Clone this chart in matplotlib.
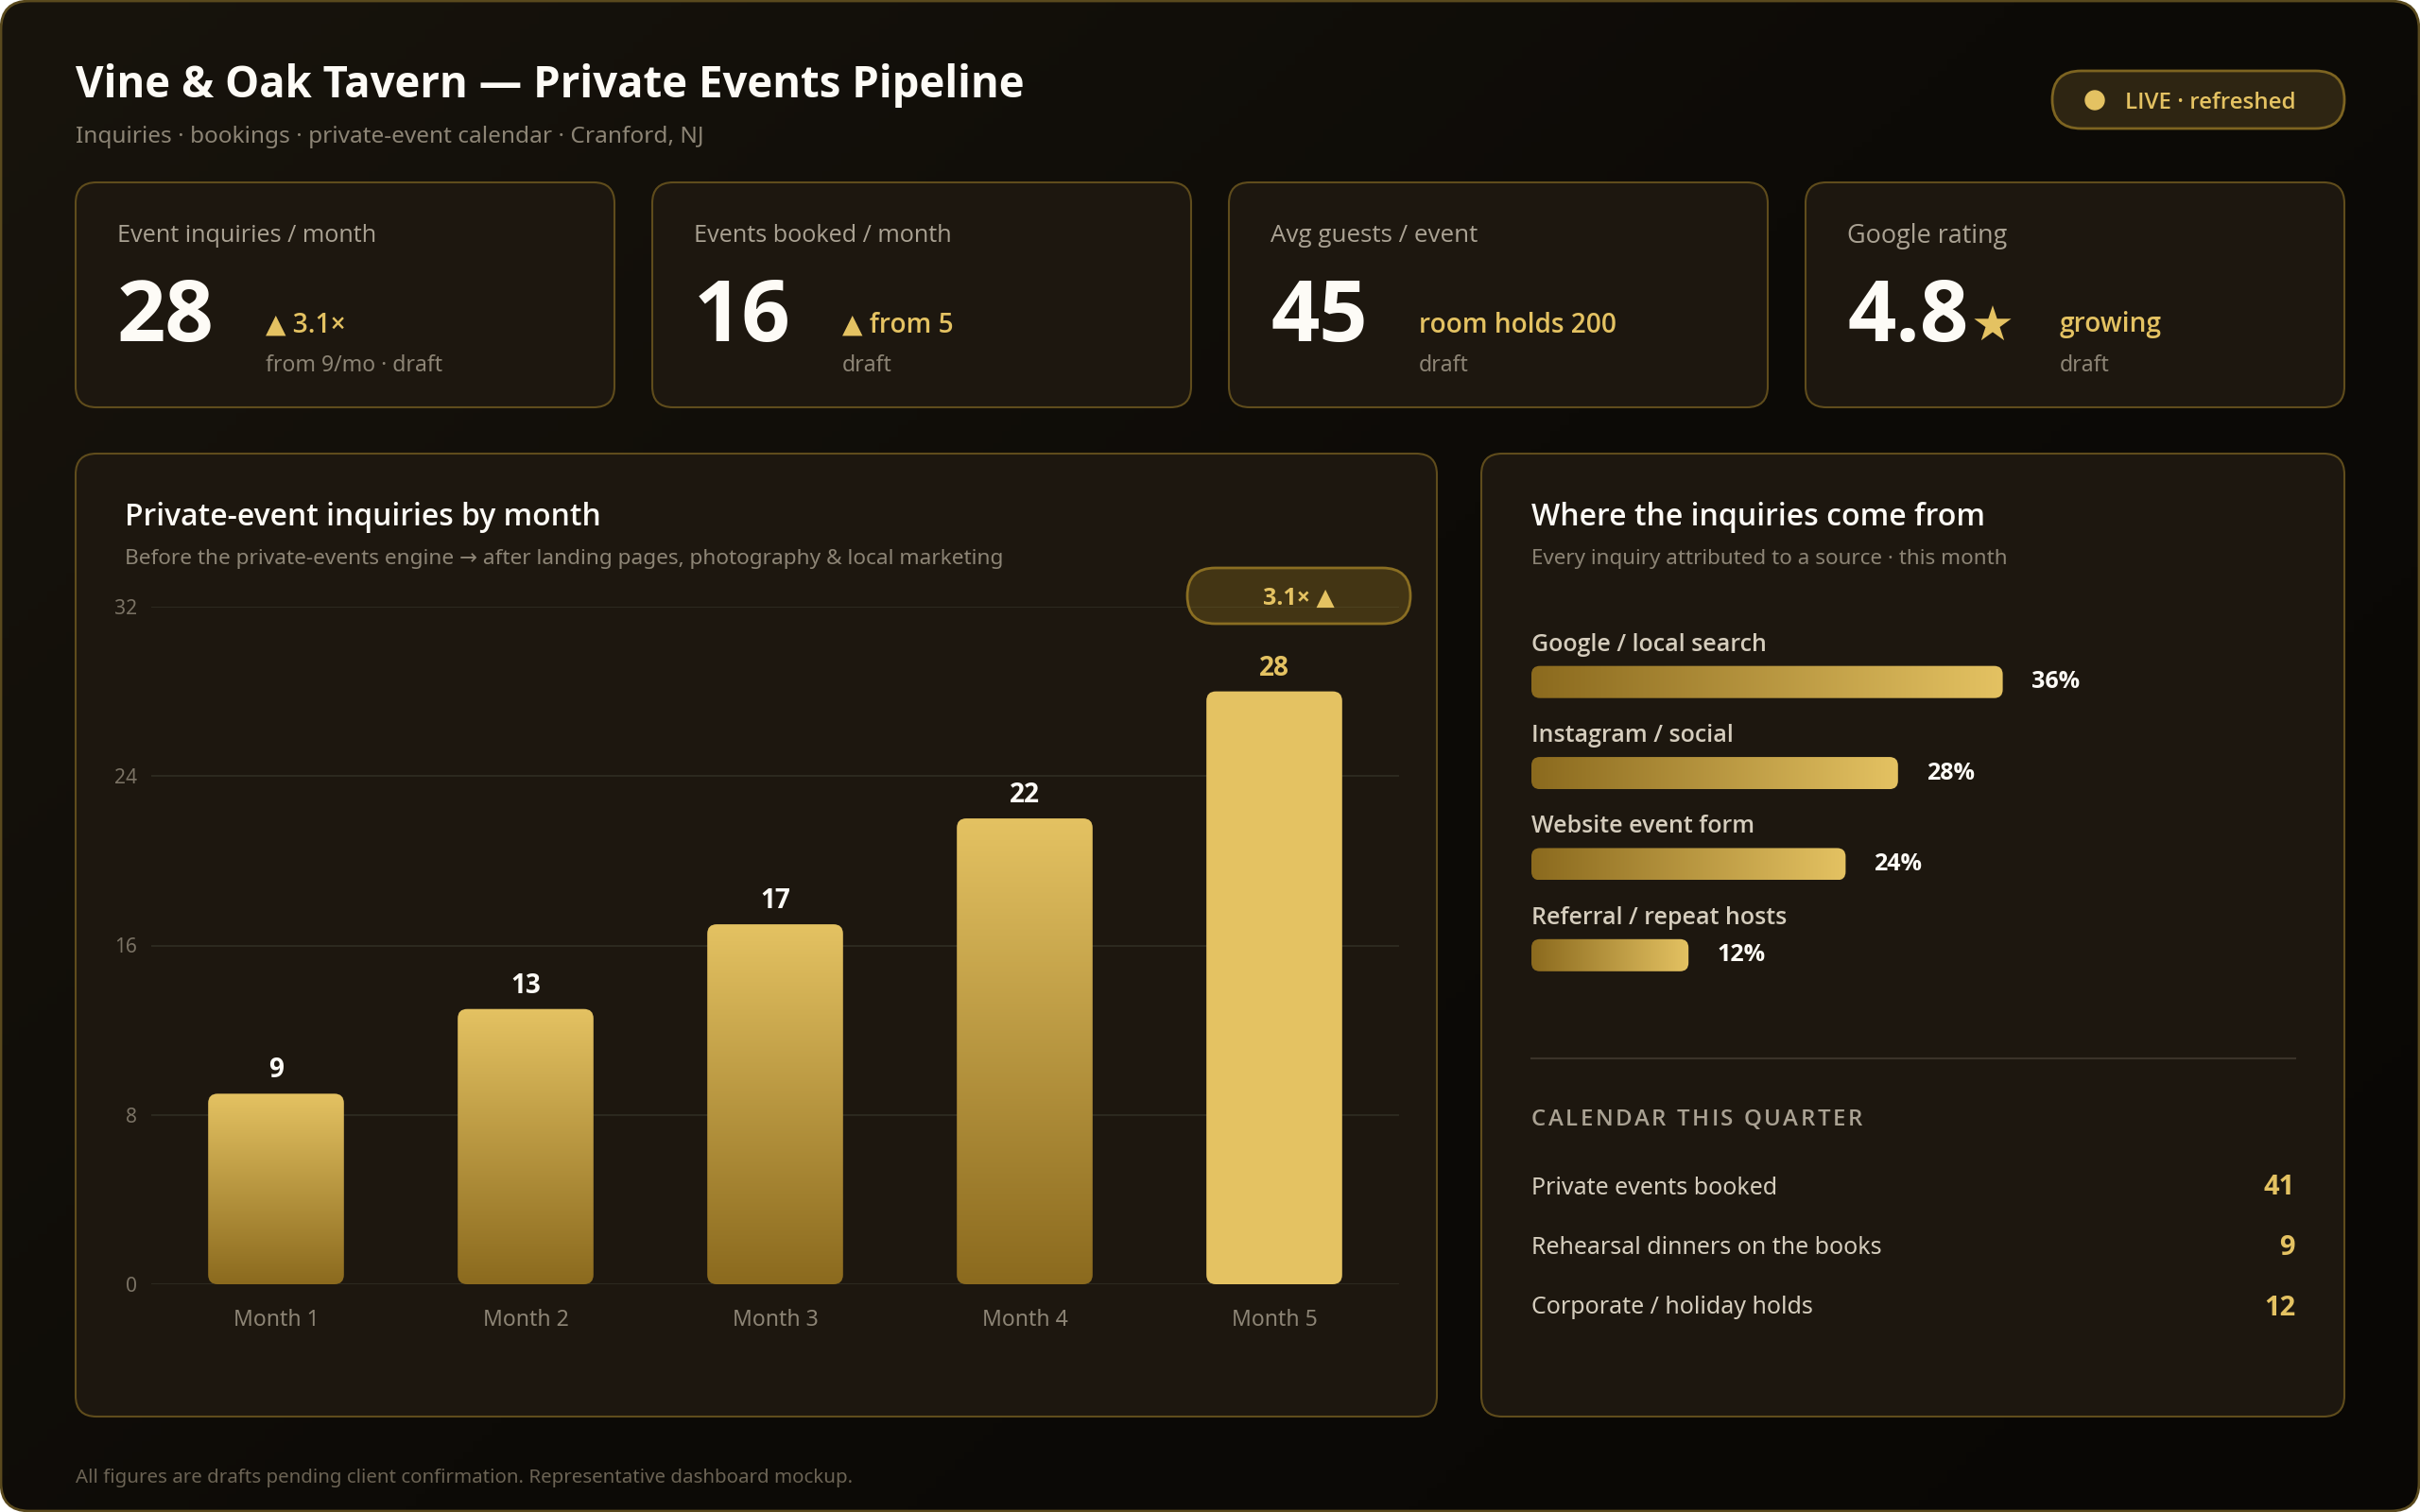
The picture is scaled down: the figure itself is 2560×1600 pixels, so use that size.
import numpy as np
import matplotlib
matplotlib.use("Agg")
import matplotlib.pyplot as plt
from matplotlib import font_manager as fm
from matplotlib.patches import FancyBboxPatch, Circle
from matplotlib.colors import LinearSegmentedColormap

plt.rcParams['font.family'] = ['Noto Sans', 'DejaVu Sans']

# ---- data ----
months = ["Month 1", "Month 2", "Month 3", "Month 4", "Month 5"]
inquiries = [9, 13, 17, 22, 28]
y_ticks = [0, 8, 16, 24, 32]

sources = ["Google / local search", "Instagram / social", "Website event form", "Referral / repeat hosts"]
source_pct = [36, 28, 24, 12]

kpi_labels = ["Event inquiries / month", "Events booked / month", "Avg guests / event", "Google rating"]
kpi_values = ["28", "16", "45", "4.8"]
kpi_deltas = ["▲ 3.1×", "▲ from 5", "room holds 200", "growing"]
kpi_notes = ["from 9/mo · draft", "draft", "draft", "draft"]

calendar_items = ["Private events booked", "Rehearsal dinners on the books", "Corporate / holiday holds"]
calendar_counts = [41, 9, 12]

# ---- colours ----
WHITE = "#fdfbf6"
GOLD = "#e4c262"
GOLD_DARK = "#8b6a1e"
CARD = "#1d170f"
CARD_EDGE = "#5f4c1c"
MUTED = "#aaa293"
DIM = "#8c8475"
LIGHT = "#d5cdbd"
TICK = "#7a7264"
FOOT = "#6b6354"
GRID = "#2e2b21"
DIVIDER = "#3a3329"


def real_bold(fam):
    # some installs only ship a variable font, where matplotlib can't pick the bold weight
    try:
        f = fm.findfont(fm.FontProperties(family=fam, weight="bold"), fallback_to_default=False)
    except ValueError:
        return False
    return "bold" in f.lower()


BOLD_FAM = next(f for f in ["Noto Sans", "Open Sans", "Lato", "Roboto", "DejaVu Sans"] if real_bold(f))
BOLD = [BOLD_FAM, "DejaVu Sans"]
REG = ["Noto Sans", "DejaVu Sans"]

W, H = 2560, 1600
fig = plt.figure(figsize=(W / 100, H / 100), dpi=100, facecolor="white")
bg = fig.add_axes([0, 0, 1, 1])
bg.axis("off")
renderer = fig.canvas.get_renderer()


def px(v):
    # pixel size -> points at dpi 100
    return v * 0.72


def box(x, y, w, h, r, fc, ec, lw=1.5, z=1):
    p = FancyBboxPatch((x, y), w, h, boxstyle=f"round,pad=0,rounding_size={r}",
                       fc=fc, ec=ec, lw=lw, zorder=z)
    bg.add_patch(p)
    return p


def txt(x, y, s, size, color, weight="normal", ha="left", va="center", fit=None, z=3):
    fam = REG if weight == "normal" else BOLD
    if va == "center":
        y = y + 3
    t = bg.text(x, y, s, fontsize=px(size), color=color, fontweight=weight, family=fam,
                ha=ha, va=va, zorder=z)
    if fit:
        w = t.get_window_extent(renderer).width
        t.set_fontsize(t.get_fontsize() * fit / w)
    return t


def spaced(x, y, s, size, color, weight, gap):
    # letter-spaced caption, one glyph at a time
    for ch in s:
        t = txt(x, y, ch, size, color, weight)
        x = t.get_window_extent(renderer).x1 + gap


# page background, rounded frame with a soft diagonal gradient
frame = box(1, 1, W - 2, H - 2, 30, "none", "#5a4a1e", lw=2, z=0.5)
g = np.linspace(0, 1, 256)
gx, gy = np.meshgrid(g, g)
page_cmap = LinearSegmentedColormap.from_list("page", ["#18140d", "#0d0b07", "#090705"])
im = bg.imshow((gx * 0.6 + gy * 0.4), cmap=page_cmap, extent=(0, W, H, 0), aspect="auto", zorder=0)
im.set_clip_path(frame)
bg.set_xlim(0, W)
bg.set_ylim(H, 0)

# header
txt(80, 87, "Vine & Oak Tavern — Private Events Pipeline", 50, WHITE, "bold", fit=1006)
txt(80, 142, "Inquiries · bookings · private-event calendar · Cranford, NJ", 26, DIM, fit=663)

box(2171, 75, 309, 61, 30.5, "#2e2512", "#7d6421", lw=2)
bg.add_patch(Circle((2216, 106), 10, color=GOLD, zorder=3))
txt(2248, 106, "LIVE · refreshed", 26, GOLD, "semibold", fit=181)

# KPI cards
card_x = [80, 690, 1300, 1910]
delta_dx = [201, 201, 201, 269]
for i in range(4):
    x = card_x[i]
    box(x, 193, 570, 238, 22, CARD, CARD_EDGE)
    txt(x + 44, 247, kpi_labels[i], 24, MUTED, "medium", fit=[276, 274, 220, 170][i])
    num = txt(x + 44, 361, kpi_values[i], 90, WHITE, "bold", va="baseline")
    if i == 3:
        end = num.get_window_extent(renderer).x1
        txt(end + 2, 361, "★", 50, GOLD, va="baseline", fit=46)
    txt(x + delta_dx[i], 341, kpi_deltas[i], 28, GOLD, "semibold")
    txt(x + delta_dx[i], 384, kpi_notes[i], 23, DIM)

# chart panel
box(80, 480, 1440, 1019, 22, CARD, CARD_EDGE)
txt(132, 544, "Private-event inquiries by month", 34, WHITE, "semibold", fit=504)
txt(132, 589, "Before the private-events engine → after landing pages, photography & local marketing",
    23, DIM, fit=929)

# sources panel
box(1567, 480, 913, 1019, 22, CARD, CARD_EDGE)
txt(1620, 544, "Where the inquiries come from", 34, WHITE, "semibold", fit=480)
txt(1620, 589, "Every inquiry attributed to a source · this month", 23, DIM, fit=504)

bg.plot([1620, 2428], [1120, 1120], color=DIVIDER, lw=1.5, zorder=2)
spaced(1620, 1182, "CALENDAR THIS QUARTER", 24, MUTED, "semibold", 2.5)
for i, (name, n) in enumerate(zip(calendar_items, calendar_counts)):
    y = 1254 + i * 63.5
    txt(1620, y, name, 25, LIGHT)
    txt(2428, y, str(n), 29, GOLD, "bold", ha="right")

txt(80, 1561, "All figures are drafts pending client confirmation. Representative dashboard mockup.",
    22, FOOT, fit=821)

bar_cmap = LinearSegmentedColormap.from_list("gold", [GOLD_DARK, GOLD])

# ---- monthly inquiries bar chart ----
ax_l, ax_r, ax_t, ax_b = 160, 1480, 642, 1359
ax = fig.add_axes([ax_l / W, 1 - ax_b / H, (ax_r - ax_l) / W, (ax_b - ax_t) / H])
ax.set_facecolor("none")
bars = ax.bar(range(len(months)), inquiries, width=0.544, color="none", zorder=2)
ax.set_xlim(-0.5, len(months) - 0.5)
ax.set_ylim(y_ticks[0], y_ticks[-1])
ax.set_yticks(y_ticks)
ax.set_xticks(range(len(months)), months)
ax.grid(axis="y", color=GRID, lw=1.3)
ax.set_axisbelow(True)
for s in ax.spines.values():
    s.set_visible(False)
ax.tick_params(axis="y", length=0, colors=TICK, labelsize=px(21), pad=px(15))
ax.tick_params(axis="x", length=0, colors=DIM, labelsize=px(23), pad=px(26))

sx = (ax_r - ax_l) / len(months)
sy = (ax_b - ax_t) / (y_ticks[-1] - y_ticks[0])
vgrad = np.linspace(0, 1, 256).reshape(-1, 1)
for i, b in enumerate(bars):
    x0, w, h = b.get_x(), b.get_width(), b.get_height()
    last = i == len(bars) - 1
    clip = FancyBboxPatch((x0, 0), w, h, boxstyle=f"round,pad=0,rounding_size={10 / sx}",
                          mutation_aspect=sx / sy, fc=GOLD if last else "none", ec="none", zorder=2)
    ax.add_patch(clip)
    if not last:
        img = ax.imshow(vgrad, cmap=bar_cmap, extent=(x0, x0 + w, 0, h), origin="lower",
                        aspect="auto", zorder=2)
        img.set_clip_path(clip)
ax.set_xlim(-0.5, len(months) - 0.5)
ax.set_ylim(y_ticks[0], y_ticks[-1])
vals = ax.bar_label(bars, padding=px(10), color=WHITE, fontsize=px(28), fontweight="bold", family=BOLD)
vals[-1].set_color(GOLD)  # current month is highlighted

# growth pill over the chart
pill = FancyBboxPatch((1256, 601), 236, 59, boxstyle="round,pad=0,rounding_size=29.5",
                      fc=(0.55, 0.43, 0.12, 0.35), ec="#8a6e22", lw=2,
                      transform=bg.transData, zorder=5)
fig.add_artist(pill)
fig.text(1374, 633, "3.1× ▲", transform=bg.transData, ha="center", va="center",
         color=GOLD, fontsize=px(25), fontweight="bold", family=BOLD, zorder=6)

# ---- inquiry sources ----
h_l, h_r, h_t, h_b = 1620, 2428, 673.5, 1059
ax2 = fig.add_axes([h_l / W, 1 - h_b / H, (h_r - h_l) / W, (h_b - h_t) / H])
ax2.set_facecolor("none")
hb = ax2.barh(range(len(sources)), source_pct, height=0.353, color="none")
xmax = (h_r - h_l) / 13.85
ax2.set_xlim(0, xmax)
ax2.set_ylim(len(sources) - 0.5, -0.5)
ax2.axis("off")

hx = (h_r - h_l) / xmax
hy = (h_b - h_t) / len(sources)
hgrad = np.linspace(0, 1, 256).reshape(1, -1)
for b in hb:
    x0, y0, w, h = b.get_x(), b.get_y(), b.get_width(), b.get_height()
    clip = FancyBboxPatch((x0, y0), w, h, boxstyle=f"round,pad=0,rounding_size={9 / hx}",
                          mutation_aspect=hx / hy, fc="none", ec="none")
    ax2.add_patch(clip)
    img = ax2.imshow(hgrad, cmap=bar_cmap, extent=(x0, x0 + w, y0 + h, y0), aspect="auto", zorder=2)
    img.set_clip_path(clip)
ax2.set_xlim(0, xmax)
ax2.set_ylim(len(sources) - 0.5, -0.5)

for i, name in enumerate(sources):
    ax2.text(0, i - 0.41, name, va="center", ha="left", color=LIGHT,
             fontsize=px(25), fontweight="semibold", family=BOLD)
ax2.bar_label(hb, labels=[f"{v}%" for v in source_pct], padding=px(30),
              color=WHITE, fontsize=px(25), fontweight="bold", family=BOLD)

fig.savefig("out.png", dpi=100, facecolor=fig.get_facecolor())
